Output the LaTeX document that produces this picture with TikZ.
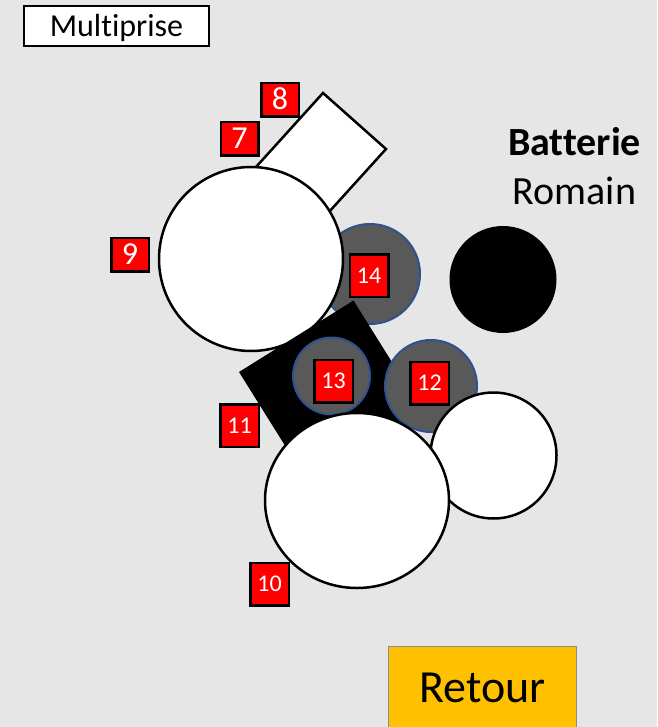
\documentclass[tikz,border=0pt]{standalone}
\usepackage{fontspec}
\setmainfont{Carlito}[Ligatures={NoCommon}]
\usetikzlibrary{calc}
\definecolor{bgGrey}{RGB}{230,230,230}
\definecolor{padGrey}{RGB}{89,89,89}
\definecolor{padBlue}{RGB}{47,82,143}
\definecolor{retourGold}{RGB}{255,192,0}
\tikzset{
  numbox/.style={draw=black,line width=2.5pt,fill=red,text=white,inner sep=0pt,
    minimum width=37.5pt,minimum height=33.5pt,text height=20pt,text depth=0pt,
    font=\fontsize{32}{32}\selectfont},
  numbox small/.style={numbox,minimum width=38.5pt,minimum height=42.5pt,
    text height=15pt,font=\fontsize{24}{24}\selectfont},
  disc/.style={draw=black,line width=2.5pt,fill=white},
  pad/.style={draw=padBlue,line width=2pt,fill=padGrey},
}

\begin{document}
\begin{tikzpicture}[x=1pt,y=-1pt]
\fill[bgGrey] (0,0) rectangle (657,727);
\clip (0,0) rectangle (657,727);

\coordinate (padA) at (370,274);
\coordinate (padB) at (331.5,376);
\coordinate (padC) at (431,386);

% plug body and pads
\draw[disc] (323,93) -- (386,149) -- (278.6,267.6) -- (215.6,211.6) -- cycle;
\draw[pad] (padA) circle (50);
\draw[disc] (251,259) circle (92);
\fill[black] (503,279.5) circle (53.5);
\fill[black] (239,372) -- (353.5,300.5) -- (425,415) -- (310.6,486.5) -- cycle;
\draw[pad] (padB) circle (38.5);
\draw[pad] (padC) circle (46);
\draw[disc] (493.5,455.5) circle (63);
\draw[disc] (357,500.5) ellipse (92 and 87.5);

% labels
\node[numbox] (n8) at (280,100) {8};
\node[numbox] (n7) at (239.5,139) {7};
\node[numbox] (n9) at (130,254.5) {9};
\node[numbox small] (n14) at (369,275.5) {14};
\node[numbox small] (n13) at (333.5,381) {13};
\node[numbox small] (n12) at (429.5,383) {12};
\node[numbox small] (n11) at (239.5,425.5) {11};
\node[numbox small] (n10) at (269.5,584) {10};

\node[draw=black,line width=2pt,fill=white,minimum width=185pt,minimum height=40pt,
  inner sep=0pt,text height=22pt,text depth=0pt,font=\fontsize{32}{32}\selectfont]
  (multiprise) at (116.5,26) {Multiprise};
\node[anchor=base,font=\fontsize{40}{49}\bfseries] (batterie) at (574.5,156) {Batterie};
\node[anchor=base,font=\fontsize{40}{49}\selectfont] (romain) at (574.5,205) {Romain};
\node[draw=black!45,line width=1pt,fill=retourGold,minimum width=188pt,minimum height=82pt,
  inner sep=0pt,text height=30pt,text depth=0pt,font=\fontsize{46}{46}\selectfont]
  (retour) at (482.5,687) {Retour};
\end{tikzpicture}
\end{document}
